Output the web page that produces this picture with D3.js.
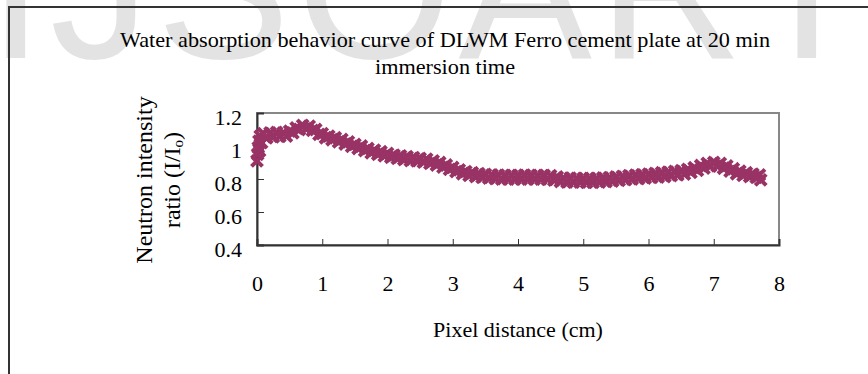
<!DOCTYPE html>
<html>
<head>
<meta charset="utf-8">
<script src="https://cdn.jsdelivr.net/npm/d3@7"></script>
<style>
  body { margin: 0; background: #fff; }
  svg text { font-family: "Liberation Serif", "Times New Roman", serif; fill: #000; }
</style>
</head>
<body>
<svg id="chart" width="868" height="374"></svg>
<script>
// values: pixel distance (cm) vs neutron intensity ratio
const distance = [
  0, 0.01, 0.02, 0.03, 0.04, 0.05, 0.07, 0.10, 0.15, 0.20, 0.25, 0.30, 0.35, 0.40, 0.45, 0.50,
  0.55, 0.60, 0.65, 0.70, 0.75, 0.80, 0.85, 0.90, 0.95, 1.00, 1.05, 1.10, 1.15, 1.20, 1.25,
  1.30, 1.35, 1.40, 1.45, 1.50, 1.55, 1.60, 1.65, 1.70, 1.75, 1.80, 1.85, 1.90, 1.95, 2.00,
  2.05, 2.10, 2.15, 2.20, 2.25, 2.30, 2.35, 2.40, 2.45, 2.50, 2.55, 2.60, 2.65, 2.70, 2.75,
  2.80, 2.85, 2.90, 2.95, 3.00, 3.05, 3.10, 3.15, 3.20, 3.25, 3.30, 3.35, 3.40, 3.45, 3.50,
  3.55, 3.60, 3.65, 3.70, 3.75, 3.80, 3.85, 3.90, 3.95, 4.00, 4.05, 4.10, 4.15, 4.20, 4.25,
  4.30, 4.35, 4.40, 4.45, 4.50, 4.55, 4.60, 4.65, 4.70, 4.75, 4.80, 4.85, 4.90, 4.95, 5.00,
  5.05, 5.10, 5.15, 5.20, 5.25, 5.30, 5.35, 5.40, 5.45, 5.50, 5.55, 5.60, 5.65, 5.70, 5.75,
  5.80, 5.85, 5.90, 5.95, 6.00, 6.05, 6.10, 6.15, 6.20, 6.25, 6.30, 6.35, 6.40, 6.45, 6.50,
  6.55, 6.60, 6.65, 6.70, 6.75, 6.80, 6.85, 6.90, 6.95, 7.00, 7.05, 7.10, 7.15, 7.20, 7.25,
  7.30, 7.35, 7.40, 7.45, 7.50, 7.55, 7.60, 7.65, 7.70, 7.72
];
const ratio = [
  0.91, 0.95, 0.99, 1.03, 0.97, 1.06, 1.02, 1.075, 1.05, 1.08, 1.055, 1.082, 1.058, 1.08, 1.06, 1.09,
  1.08, 1.11, 1.10, 1.125, 1.105, 1.12, 1.095, 1.10, 1.07, 1.075, 1.05, 1.06, 1.038, 1.05, 1.025,
  1.04, 1.012, 1.025, 0.998, 1.01, 0.985, 1.00, 0.972, 0.985, 0.958, 0.975, 0.95, 0.965, 0.94, 0.955,
  0.932, 0.945, 0.925, 0.94, 0.918, 0.935, 0.912, 0.93, 0.91, 0.925, 0.902, 0.92, 0.895, 0.91, 0.885,
  0.90, 0.872, 0.885, 0.858, 0.87, 0.845, 0.855, 0.832, 0.845, 0.822, 0.838, 0.815, 0.832, 0.81, 0.828,
  0.806, 0.825, 0.803, 0.823, 0.80, 0.822, 0.80, 0.822, 0.80, 0.822, 0.80, 0.823, 0.80, 0.822, 0.80,
  0.822, 0.80, 0.822, 0.798, 0.82, 0.793, 0.812, 0.785, 0.805, 0.782, 0.805, 0.781, 0.804, 0.781, 0.803,
  0.78, 0.803, 0.78, 0.804, 0.782, 0.806, 0.784, 0.808, 0.788, 0.812, 0.792, 0.816, 0.796, 0.82, 0.80,
  0.824, 0.803, 0.827, 0.806, 0.83, 0.81, 0.834, 0.812, 0.838, 0.815, 0.842, 0.82, 0.846, 0.825, 0.85,
  0.83, 0.858, 0.84, 0.868, 0.852, 0.882, 0.866, 0.895, 0.878, 0.90, 0.88, 0.895, 0.865, 0.88, 0.848,
  0.862, 0.832, 0.848, 0.822, 0.838, 0.815, 0.83, 0.81, 0.825, 0.795
];
const xTicks = [0, 1, 2, 3, 4, 5, 6, 7, 8];
const yTicks = [0.4, 0.6, 0.8, 1.0, 1.2];
const yTickLabels = ['0.4', '0.6', '0.8', '1', '1.2'];
const titleLines = ['Water absorption behavior curve of DLWM Ferro cement plate at 20 min', 'immersion time'];

const svg = d3.select('#chart');
const plot = {left: 257, right: 779, top: 113, bottom: 245};
const markColor = '#993366';

svg.append('rect').attr('width', 868).attr('height', 374).attr('fill', '#fff');

// watermark behind everything
svg.append('text')
  .attr('x', -12).attr('y', 58)
  .attr('textLength', 880).attr('lengthAdjust', 'spacing')
  .style('font-family', '"Liberation Sans", Arial, sans-serif')
  .style('font-size', '200px')
  .style('fill', '#e3e3e3')
  .text('IJSOART');

// chart area border (left and top visible)
svg.append('path')
  .attr('d', 'M9,380V7H880')
  .attr('fill', 'none')
  .attr('stroke', '#333')
  .attr('stroke-width', 2);

// title (narrow lettering as in the picture)
const titleWidths = [650, 140];
svg.selectAll('.title')
  .data(titleLines)
  .enter().append('text')
  .attr('class', 'title')
  .attr('x', (d, i) => 445 - titleWidths[i] / 2)
  .attr('y', (d, i) => 47 + i * 27)
  .attr('textLength', (d, i) => titleWidths[i])
  .attr('lengthAdjust', 'spacingAndGlyphs')
  .style('font-size', '22px')
  .text(d => d);

const x = d3.scaleLinear().domain([0, 8]).range([plot.left, plot.right]);
const y = d3.scaleLinear().domain([0.4, 1.2]).range([plot.bottom, plot.top]);

// plot area border
svg.append('rect')
  .attr('x', plot.left).attr('y', plot.top)
  .attr('width', plot.right - plot.left).attr('height', plot.bottom - plot.top)
  .attr('fill', 'none')
  .attr('stroke', '#888')
  .attr('stroke-width', 2);

const gx = svg.append('g')
  .attr('transform', 'translate(0,' + plot.bottom + ')')
  .call(d3.axisBottom(x).tickValues(xTicks).tickSize(-6).tickPadding(30).tickFormat(d3.format('d')));

const gy = svg.append('g')
  .attr('transform', 'translate(' + plot.left + ',0)')
  .call(d3.axisLeft(y).tickValues(yTicks).tickSize(-7).tickPadding(15)
    .tickFormat((d, i) => yTickLabels[i]));

[gx, gy].forEach(g => {
  g.select('.domain').attr('stroke', '#333').attr('stroke-width', 2);
  g.selectAll('.tick line').attr('stroke', '#333').attr('stroke-width', 1);
  g.selectAll('.tick text')
    .style('font-family', '"Liberation Serif", "Times New Roman", serif')
    .style('font-size', '22px')
    .attr('fill', '#000');
});
gy.selectAll('.tick text').attr('dy', '0.5em');

// data markers (x shapes), dense enough to merge into a band
svg.append('g')
  .selectAll('path')
  .data(distance.map((d, i) => [d, ratio[i]]))
  .enter().append('path')
  .attr('transform', d => 'translate(' + x(d[0]) + ',' + y(d[1]) + ')')
  .attr('d', 'M-5.5,-5.5L5.5,5.5M-5.5,5.5L5.5,-5.5')
  .attr('stroke', markColor)
  .attr('stroke-width', 4)
  .attr('fill', 'none');

// axis titles
svg.append('text')
  .attr('x', (plot.left + plot.right) / 2)
  .attr('y', 337)
  .attr('text-anchor', 'middle')
  .style('font-size', '22px')
  .text('Pixel distance (cm)');

const yTitle = svg.append('text')
  .attr('transform', 'translate(0,180) rotate(-90)')
  .attr('text-anchor', 'middle')
  .style('font-size', '24px');
yTitle.append('tspan').attr('x', 0).attr('y', 152).text('Neutron intensity');
yTitle.append('tspan').attr('x', 0).attr('y', 180).text('ratio (I/I');
yTitle.append('tspan').style('font-size', '15px').attr('dy', 3).text('o');
yTitle.append('tspan').attr('dy', -3).text(')');
</script>
</body>
</html>
